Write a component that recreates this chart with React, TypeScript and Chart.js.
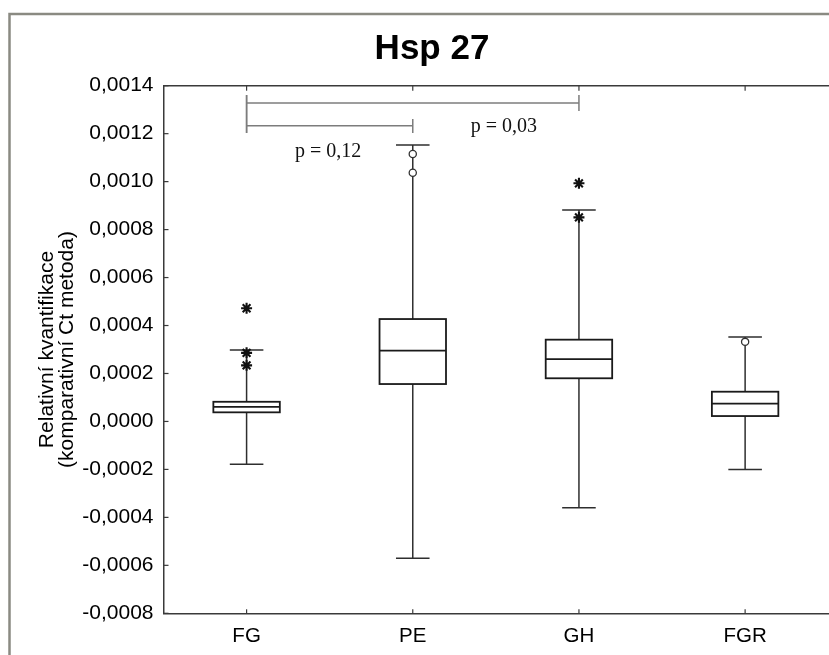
import React, { useEffect, useRef } from 'react';
import { Chart, registerables } from 'chart.js';

Chart.register(...registerables);

// ---- data ----
const chartTitle = 'Hsp 27';
const yAxisTitle = ['Relativní kvantifikace', '(komparativní Ct metoda)'];
const categories = ['FG', 'PE', 'GH', 'FGR'];
const whiskerLow = [-0.000178, -0.00057, -0.00036, -0.0002];
const q1 = [0.000038, 0.000156, 0.00018, 0.0000225];
const median = [0.000061, 0.000295, 0.00026, 0.000074];
const q3 = [0.000082, 0.000427, 0.000341, 0.000124];
const whiskerHigh = [0.000298, 0.001153, 0.000882, 0.000352];
const asteriskOutliers = [[0.000472, 0.000286, 0.000234], [], [0.000993, 0.000851], []];
const circleOutliers = [[], [0.001115, 0.001037], [], [0.000332]];
const yTickValues = [-0.0008, -0.0006, -0.0004, -0.0002, 0, 0.0002, 0.0004, 0.0006, 0.0008, 0.001, 0.0012, 0.0014];
// significance brackets: from category, to category, bar level, end tick extents
const bracketFrom = [1, 1];
const bracketTo = [3, 2];
const bracketLevel = [0.001328, 0.001233];
const bracketLeftTop = [0.001361, 0.001361];
const bracketLeftBottom = [0.001203, 0.001203];
const bracketRightTop = [0.001361, 0.001261];
const bracketRightBottom = [0.001294, 0.001203];
const pLabelText = ['p = 0,12', 'p = 0,03'];
const pLabelX = [1.49, 2.548];
const pLabelY = [0.001104, 0.001208];

// ---- styles ----
const BOX_HALF = 0.2;
const CAP_HALF = 0.101;
const AXIS_COLOR = '#3a3a3a';
const SANS = '"Liberation Sans", Arial, sans-serif';
const SERIF = '"Liberation Serif", "Times New Roman", serif';

const fmt = (v: number) => (Math.abs(v) < 1e-12 ? 0 : v).toFixed(4).replace('.', ',');

const framePlugin = {
  id: 'frame',
  beforeDraw(chart: any) {
    const { ctx, width, height } = chart;
    ctx.save();
    ctx.fillStyle = '#ffffff';
    ctx.fillRect(0, 0, width, height);
    ctx.strokeStyle = '#8a8a82';
    ctx.lineWidth = 2.5;
    ctx.beginPath();
    ctx.moveTo(9.5, height + 2);
    ctx.lineTo(9.5, 14);
    ctx.lineTo(width + 2, 14);
    ctx.stroke();
    ctx.restore();
  },
};

const boxPlugin = {
  id: 'boxes',
  beforeDatasetsDraw(chart: any) {
    const { ctx } = chart;
    const x = chart.scales.x;
    const y = chart.scales.y;
    const line = (x1: number, y1: number, x2: number, y2: number) => {
      ctx.beginPath();
      ctx.moveTo(x1, y1);
      ctx.lineTo(x2, y2);
      ctx.stroke();
    };
    ctx.save();
    categories.forEach((_, i) => {
      const c = i + 1;
      const cx = x.getPixelForValue(c);
      const bl = x.getPixelForValue(c - BOX_HALF);
      const br = x.getPixelForValue(c + BOX_HALF);
      const cl = x.getPixelForValue(c - CAP_HALF);
      const cr = x.getPixelForValue(c + CAP_HALF);
      const yHi = y.getPixelForValue(whiskerHigh[i]);
      const yLo = y.getPixelForValue(whiskerLow[i]);
      const yQ1 = y.getPixelForValue(q1[i]);
      const yQ3 = y.getPixelForValue(q3[i]);
      const yMed = y.getPixelForValue(median[i]);
      ctx.strokeStyle = '#2e2e2e';
      ctx.lineWidth = 1.5;
      line(cx, yHi, cx, yQ3);
      line(cx, yQ1, cx, yLo);
      line(cl, yHi, cr, yHi);
      line(cl, yLo, cr, yLo);
      ctx.fillStyle = '#ffffff';
      ctx.fillRect(bl, yQ3, br - bl, yQ1 - yQ3);
      ctx.strokeStyle = '#1a1a1a';
      ctx.lineWidth = 1.8;
      ctx.strokeRect(bl, yQ3, br - bl, yQ1 - yQ3);
      line(bl, yMed, br, yMed);
    });
    // inward tick marks
    const area = chart.chartArea;
    ctx.strokeStyle = AXIS_COLOR;
    ctx.lineWidth = 1.2;
    y.ticks.forEach((t: any) => {
      const py = y.getPixelForValue(t.value);
      line(area.left, py, area.left + 5, py);
    });
    categories.forEach((_, i) => {
      const px = x.getPixelForValue(i + 1);
      line(px, area.top, px, area.top + 5);
      line(px, area.bottom, px, area.bottom - 4);
    });
    // significance brackets
    ctx.strokeStyle = '#7c7c7c';
    ctx.lineWidth = 1.5;
    bracketFrom.forEach((f, i) => {
      const x1 = x.getPixelForValue(f);
      const x2 = x.getPixelForValue(bracketTo[i]);
      const yl = y.getPixelForValue(bracketLevel[i]);
      line(x1, yl, x2, yl);
      line(x1, y.getPixelForValue(bracketLeftTop[i]), x1, y.getPixelForValue(bracketLeftBottom[i]));
      line(x2, y.getPixelForValue(bracketRightTop[i]), x2, y.getPixelForValue(bracketRightBottom[i]));
    });
    ctx.fillStyle = '#111111';
    ctx.font = `20px ${SERIF}`;
    ctx.textAlign = 'center';
    ctx.textBaseline = 'alphabetic';
    pLabelText.forEach((t, i) => {
      ctx.fillText(t, x.getPixelForValue(pLabelX[i]), y.getPixelForValue(pLabelY[i]));
    });
    ctx.restore();
  },
};

const asteriskPoints = asteriskOutliers.flatMap((arr, i) => arr.map((v) => ({ x: i + 1, y: v })));
const circlePoints = circleOutliers.flatMap((arr, i) => arr.map((v) => ({ x: i + 1, y: v })));

const CANVAS_W = 864;
const CANVAS_H = 655;
const X_MIN = 0.5;
const X_MAX = 0.5 + (CANVAS_W - 163.5) / 168;

export default function App() {
  const ref = useRef<HTMLCanvasElement>(null);
  useEffect(() => {
    const canvas = ref.current;
    if (!canvas) return;
    const chart = new Chart(canvas, {
      type: 'scatter',
      data: {
        datasets: [
          {
            label: 'asterisk',
            data: asteriskPoints,
            pointStyle: 'star',
            pointRadius: 5.5,
            borderColor: '#111111',
            backgroundColor: '#111111',
            borderWidth: 2.1,
          },
          {
            label: 'circle',
            data: circlePoints,
            pointStyle: 'circle',
            pointRadius: 3.6,
            borderColor: '#333333',
            backgroundColor: '#ffffff',
            borderWidth: 1.3,
          },
        ],
      },
      options: {
        animation: false,
        responsive: false,
        devicePixelRatio: 1,
        events: [],
        layout: { padding: 0 },
        plugins: {
          legend: { display: false },
          tooltip: { enabled: false },
          title: {
            display: true,
            text: chartTitle,
            color: '#000000',
            font: { family: SANS, size: 35, weight: 'bold', lineHeight: 1.2 },
            padding: { top: 28, bottom: 15.7 },
          },
        },
        scales: {
          x: {
            type: 'linear',
            position: 'bottom',
            min: X_MIN,
            max: X_MAX,
            afterBuildTicks: (s: any) => {
              s.ticks = categories.map((_, i) => ({ value: i + 1 }));
            },
            afterFit: (s: any) => {
              s.height = CANVAS_H - 613.3;
            },
            ticks: {
              color: '#000000',
              font: { family: SANS, size: 20.5 },
              padding: 11,
              autoSkip: false,
              maxRotation: 0,
              callback: (v: any) => categories[Math.round(Number(v)) - 1] ?? '',
            },
            grid: { display: false, drawTicks: false },
            border: { display: true, color: AXIS_COLOR, width: 1.5 },
          },
          xTop: {
            type: 'linear',
            position: 'top',
            min: X_MIN,
            max: X_MAX,
            ticks: { display: false },
            grid: { display: false, drawTicks: false },
            border: { display: true, color: AXIS_COLOR, width: 1.5 },
          },
          y: {
            type: 'linear',
            position: 'left',
            min: -0.0008,
            max: 0.0014,
            afterBuildTicks: (s: any) => {
              s.ticks = yTickValues.map((v) => ({ value: v }));
            },
            afterFit: (s: any) => {
              s.width = 163.5;
            },
            ticks: {
              color: '#000000',
              font: { family: SANS, size: 21 },
              padding: 10,
              callback: (v: any) => fmt(Number(v)),
            },
            grid: { display: false, drawTicks: false },
            border: { display: true, color: AXIS_COLOR, width: 1.5 },
            title: {
              display: true,
              text: yAxisTitle,
              color: '#000000',
              font: { family: SANS, size: 21, lineHeight: 0.98 },
              padding: { top: 36.5, bottom: 0 },
            },
          },
        },
      },
      plugins: [framePlugin, boxPlugin],
    } as any);
    return () => chart.destroy();
  }, []);
  return (
    <div
      style={{
        position: 'fixed',
        left: 0,
        top: 0,
        width: 829,
        height: 655,
        overflow: 'hidden',
        background: '#ffffff',
      }}
    >
      <canvas
        ref={ref}
        width={CANVAS_W}
        height={CANVAS_H}
        style={{ display: 'block', width: CANVAS_W, height: CANVAS_H }}
      />
    </div>
  );
}
